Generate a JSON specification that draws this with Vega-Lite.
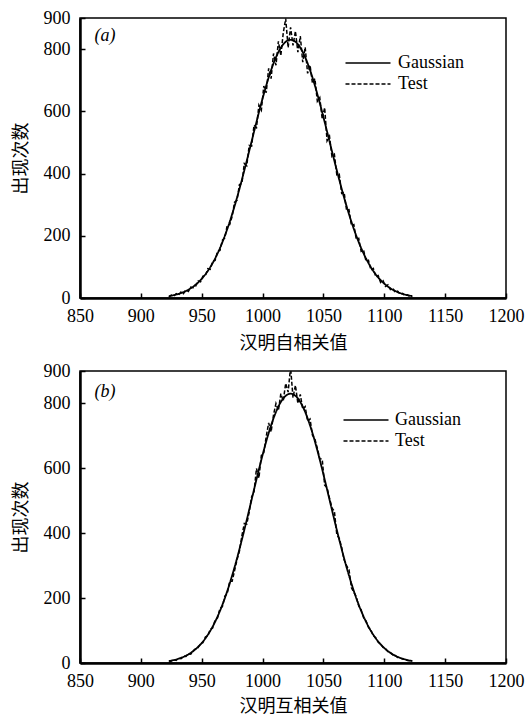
{
  "$schema": "https://vega.github.io/schema/vega-lite/v6.json",
  "padding": {"left": 11, "top": 8, "right": 5, "bottom": 3},
  "background": "white",
  "config": {
    "view": {"stroke": "black", "strokeWidth": 1.5},
    "axis": {
      "grid": false,
      "domainColor": "black",
      "domainWidth": 2.5,
      "tickColor": "black",
      "tickWidth": 1.5,
      "tickSize": -5,
      "labelFont": "Liberation Serif",
      "labelFontSize": 18,
      "labelColor": "black",
      "labelFlush": false,
      "labelOverlap": false,
      "format": "d",
      "titleFont": "Noto Sans CJK SC",
      "titleFontSize": 18,
      "titleFontWeight": "normal",
      "titleColor": "black"
    }
  },
  "datasets": {
    "gauss": [
      {"series": "Gaussian", "x": 923, "y": 6.3},
      {"series": "Gaussian", "x": 927, "y": 9.2},
      {"series": "Gaussian", "x": 931, "y": 13.3},
      {"series": "Gaussian", "x": 935, "y": 18.9},
      {"series": "Gaussian", "x": 939, "y": 26.5},
      {"series": "Gaussian", "x": 943, "y": 36.5},
      {"series": "Gaussian", "x": 947, "y": 49.5},
      {"series": "Gaussian", "x": 951, "y": 66.1},
      {"series": "Gaussian", "x": 955, "y": 86.8},
      {"series": "Gaussian", "x": 959, "y": 112.3},
      {"series": "Gaussian", "x": 963, "y": 143.1},
      {"series": "Gaussian", "x": 967, "y": 179.5},
      {"series": "Gaussian", "x": 971, "y": 221.7},
      {"series": "Gaussian", "x": 975, "y": 269.5},
      {"series": "Gaussian", "x": 979, "y": 322.5},
      {"series": "Gaussian", "x": 983, "y": 380.0},
      {"series": "Gaussian", "x": 987, "y": 440.8},
      {"series": "Gaussian", "x": 991, "y": 503.4},
      {"series": "Gaussian", "x": 995, "y": 566.0},
      {"series": "Gaussian", "x": 999, "y": 626.5},
      {"series": "Gaussian", "x": 1003, "y": 682.8},
      {"series": "Gaussian", "x": 1007, "y": 732.5},
      {"series": "Gaussian", "x": 1011, "y": 773.6},
      {"series": "Gaussian", "x": 1015, "y": 804.5},
      {"series": "Gaussian", "x": 1019, "y": 823.5},
      {"series": "Gaussian", "x": 1023, "y": 830.0},
      {"series": "Gaussian", "x": 1027, "y": 823.5},
      {"series": "Gaussian", "x": 1031, "y": 804.5},
      {"series": "Gaussian", "x": 1035, "y": 773.6},
      {"series": "Gaussian", "x": 1039, "y": 732.5},
      {"series": "Gaussian", "x": 1043, "y": 682.8},
      {"series": "Gaussian", "x": 1047, "y": 626.5},
      {"series": "Gaussian", "x": 1051, "y": 566.0},
      {"series": "Gaussian", "x": 1055, "y": 503.4},
      {"series": "Gaussian", "x": 1059, "y": 440.8},
      {"series": "Gaussian", "x": 1063, "y": 380.0},
      {"series": "Gaussian", "x": 1067, "y": 322.5},
      {"series": "Gaussian", "x": 1071, "y": 269.5},
      {"series": "Gaussian", "x": 1075, "y": 221.7},
      {"series": "Gaussian", "x": 1079, "y": 179.5},
      {"series": "Gaussian", "x": 1083, "y": 143.1},
      {"series": "Gaussian", "x": 1087, "y": 112.3},
      {"series": "Gaussian", "x": 1091, "y": 86.8},
      {"series": "Gaussian", "x": 1095, "y": 66.1},
      {"series": "Gaussian", "x": 1099, "y": 49.5},
      {"series": "Gaussian", "x": 1103, "y": 36.5},
      {"series": "Gaussian", "x": 1107, "y": 26.5},
      {"series": "Gaussian", "x": 1111, "y": 18.9},
      {"series": "Gaussian", "x": 1115, "y": 13.3},
      {"series": "Gaussian", "x": 1119, "y": 9.2},
      {"series": "Gaussian", "x": 1123, "y": 6.3}
    ],
    "test": [
      {"panel": "a", "series": "Test", "x": 923, "y": 3},
      {"panel": "a", "series": "Test", "x": 925, "y": 9},
      {"panel": "a", "series": "Test", "x": 927, "y": 6},
      {"panel": "a", "series": "Test", "x": 929, "y": 14},
      {"panel": "a", "series": "Test", "x": 931, "y": 10},
      {"panel": "a", "series": "Test", "x": 933, "y": 19},
      {"panel": "a", "series": "Test", "x": 935, "y": 14},
      {"panel": "a", "series": "Test", "x": 937, "y": 26},
      {"panel": "a", "series": "Test", "x": 939, "y": 21},
      {"panel": "a", "series": "Test", "x": 941, "y": 35},
      {"panel": "a", "series": "Test", "x": 943, "y": 33},
      {"panel": "a", "series": "Test", "x": 945, "y": 38},
      {"panel": "a", "series": "Test", "x": 947, "y": 55},
      {"panel": "a", "series": "Test", "x": 949, "y": 52},
      {"panel": "a", "series": "Test", "x": 951, "y": 70},
      {"panel": "a", "series": "Test", "x": 953, "y": 72},
      {"panel": "a", "series": "Test", "x": 955, "y": 94},
      {"panel": "a", "series": "Test", "x": 957, "y": 92},
      {"panel": "a", "series": "Test", "x": 959, "y": 118},
      {"panel": "a", "series": "Test", "x": 961, "y": 121},
      {"panel": "a", "series": "Test", "x": 963, "y": 150},
      {"panel": "a", "series": "Test", "x": 965, "y": 153},
      {"panel": "a", "series": "Test", "x": 967, "y": 186},
      {"panel": "a", "series": "Test", "x": 969, "y": 193},
      {"panel": "a", "series": "Test", "x": 971, "y": 235},
      {"panel": "a", "series": "Test", "x": 973, "y": 236},
      {"panel": "a", "series": "Test", "x": 975, "y": 262},
      {"panel": "a", "series": "Test", "x": 977, "y": 308},
      {"panel": "a", "series": "Test", "x": 979, "y": 314},
      {"panel": "a", "series": "Test", "x": 981, "y": 365},
      {"panel": "a", "series": "Test", "x": 983, "y": 368},
      {"panel": "a", "series": "Test", "x": 985, "y": 432},
      {"panel": "a", "series": "Test", "x": 987, "y": 425},
      {"panel": "a", "series": "Test", "x": 989, "y": 490},
      {"panel": "a", "series": "Test", "x": 991, "y": 488},
      {"panel": "a", "series": "Test", "x": 993, "y": 556},
      {"panel": "a", "series": "Test", "x": 995, "y": 548},
      {"panel": "a", "series": "Test", "x": 997, "y": 620},
      {"panel": "a", "series": "Test", "x": 999, "y": 604},
      {"panel": "a", "series": "Test", "x": 1001, "y": 681},
      {"panel": "a", "series": "Test", "x": 1003, "y": 660},
      {"panel": "a", "series": "Test", "x": 1005, "y": 738},
      {"panel": "a", "series": "Test", "x": 1007, "y": 705},
      {"panel": "a", "series": "Test", "x": 1009, "y": 786},
      {"panel": "a", "series": "Test", "x": 1011, "y": 748},
      {"panel": "a", "series": "Test", "x": 1013, "y": 825},
      {"panel": "a", "series": "Test", "x": 1015, "y": 779},
      {"panel": "a", "series": "Test", "x": 1017, "y": 852},
      {"panel": "a", "series": "Test", "x": 1019, "y": 898},
      {"panel": "a", "series": "Test", "x": 1021, "y": 805},
      {"panel": "a", "series": "Test", "x": 1023, "y": 870},
      {"panel": "a", "series": "Test", "x": 1025, "y": 812},
      {"panel": "a", "series": "Test", "x": 1027, "y": 858},
      {"panel": "a", "series": "Test", "x": 1029, "y": 790},
      {"panel": "a", "series": "Test", "x": 1031, "y": 842},
      {"panel": "a", "series": "Test", "x": 1033, "y": 758},
      {"panel": "a", "series": "Test", "x": 1035, "y": 806},
      {"panel": "a", "series": "Test", "x": 1037, "y": 722},
      {"panel": "a", "series": "Test", "x": 1039, "y": 748},
      {"panel": "a", "series": "Test", "x": 1041, "y": 690},
      {"panel": "a", "series": "Test", "x": 1043, "y": 705},
      {"panel": "a", "series": "Test", "x": 1045, "y": 632},
      {"panel": "a", "series": "Test", "x": 1047, "y": 644},
      {"panel": "a", "series": "Test", "x": 1049, "y": 575},
      {"panel": "a", "series": "Test", "x": 1051, "y": 612},
      {"panel": "a", "series": "Test", "x": 1053, "y": 505},
      {"panel": "a", "series": "Test", "x": 1055, "y": 520},
      {"panel": "a", "series": "Test", "x": 1057, "y": 455},
      {"panel": "a", "series": "Test", "x": 1059, "y": 462},
      {"panel": "a", "series": "Test", "x": 1061, "y": 396},
      {"panel": "a", "series": "Test", "x": 1063, "y": 398},
      {"panel": "a", "series": "Test", "x": 1065, "y": 336},
      {"panel": "a", "series": "Test", "x": 1067, "y": 340},
      {"panel": "a", "series": "Test", "x": 1069, "y": 282},
      {"panel": "a", "series": "Test", "x": 1071, "y": 284},
      {"panel": "a", "series": "Test", "x": 1073, "y": 233},
      {"panel": "a", "series": "Test", "x": 1075, "y": 236},
      {"panel": "a", "series": "Test", "x": 1077, "y": 188},
      {"panel": "a", "series": "Test", "x": 1079, "y": 192},
      {"panel": "a", "series": "Test", "x": 1081, "y": 150},
      {"panel": "a", "series": "Test", "x": 1083, "y": 154},
      {"panel": "a", "series": "Test", "x": 1085, "y": 118},
      {"panel": "a", "series": "Test", "x": 1087, "y": 121},
      {"panel": "a", "series": "Test", "x": 1089, "y": 90},
      {"panel": "a", "series": "Test", "x": 1091, "y": 95},
      {"panel": "a", "series": "Test", "x": 1093, "y": 68},
      {"panel": "a", "series": "Test", "x": 1095, "y": 72},
      {"panel": "a", "series": "Test", "x": 1097, "y": 50},
      {"panel": "a", "series": "Test", "x": 1099, "y": 56},
      {"panel": "a", "series": "Test", "x": 1101, "y": 37},
      {"panel": "a", "series": "Test", "x": 1103, "y": 42},
      {"panel": "a", "series": "Test", "x": 1105, "y": 27},
      {"panel": "a", "series": "Test", "x": 1107, "y": 31},
      {"panel": "a", "series": "Test", "x": 1109, "y": 18},
      {"panel": "a", "series": "Test", "x": 1111, "y": 22},
      {"panel": "a", "series": "Test", "x": 1113, "y": 12},
      {"panel": "a", "series": "Test", "x": 1115, "y": 15},
      {"panel": "a", "series": "Test", "x": 1117, "y": 8},
      {"panel": "a", "series": "Test", "x": 1119, "y": 10},
      {"panel": "a", "series": "Test", "x": 1121, "y": 5},
      {"panel": "a", "series": "Test", "x": 1123, "y": 4},
      {"panel": "b", "series": "Test", "x": 923, "y": 2},
      {"panel": "b", "series": "Test", "x": 925, "y": 6},
      {"panel": "b", "series": "Test", "x": 927, "y": 10},
      {"panel": "b", "series": "Test", "x": 929, "y": 8},
      {"panel": "b", "series": "Test", "x": 931, "y": 15},
      {"panel": "b", "series": "Test", "x": 933, "y": 13},
      {"panel": "b", "series": "Test", "x": 935, "y": 21},
      {"panel": "b", "series": "Test", "x": 937, "y": 20},
      {"panel": "b", "series": "Test", "x": 939, "y": 29},
      {"panel": "b", "series": "Test", "x": 941, "y": 27},
      {"panel": "b", "series": "Test", "x": 943, "y": 38},
      {"panel": "b", "series": "Test", "x": 945, "y": 44},
      {"panel": "b", "series": "Test", "x": 947, "y": 47},
      {"panel": "b", "series": "Test", "x": 949, "y": 60},
      {"panel": "b", "series": "Test", "x": 951, "y": 63},
      {"panel": "b", "series": "Test", "x": 953, "y": 80},
      {"panel": "b", "series": "Test", "x": 955, "y": 84},
      {"panel": "b", "series": "Test", "x": 957, "y": 104},
      {"panel": "b", "series": "Test", "x": 959, "y": 108},
      {"panel": "b", "series": "Test", "x": 961, "y": 132},
      {"panel": "b", "series": "Test", "x": 963, "y": 139},
      {"panel": "b", "series": "Test", "x": 965, "y": 168},
      {"panel": "b", "series": "Test", "x": 967, "y": 174},
      {"panel": "b", "series": "Test", "x": 969, "y": 206},
      {"panel": "b", "series": "Test", "x": 971, "y": 214},
      {"panel": "b", "series": "Test", "x": 973, "y": 252},
      {"panel": "b", "series": "Test", "x": 975, "y": 252},
      {"panel": "b", "series": "Test", "x": 977, "y": 285},
      {"panel": "b", "series": "Test", "x": 979, "y": 318},
      {"panel": "b", "series": "Test", "x": 981, "y": 345},
      {"panel": "b", "series": "Test", "x": 983, "y": 392},
      {"panel": "b", "series": "Test", "x": 985, "y": 430},
      {"panel": "b", "series": "Test", "x": 987, "y": 428},
      {"panel": "b", "series": "Test", "x": 989, "y": 465},
      {"panel": "b", "series": "Test", "x": 991, "y": 512},
      {"panel": "b", "series": "Test", "x": 993, "y": 528},
      {"panel": "b", "series": "Test", "x": 995, "y": 600},
      {"panel": "b", "series": "Test", "x": 997, "y": 570},
      {"panel": "b", "series": "Test", "x": 999, "y": 640},
      {"panel": "b", "series": "Test", "x": 1001, "y": 648},
      {"panel": "b", "series": "Test", "x": 1003, "y": 698},
      {"panel": "b", "series": "Test", "x": 1005, "y": 740},
      {"panel": "b", "series": "Test", "x": 1007, "y": 712},
      {"panel": "b", "series": "Test", "x": 1009, "y": 765},
      {"panel": "b", "series": "Test", "x": 1011, "y": 800},
      {"panel": "b", "series": "Test", "x": 1013, "y": 778},
      {"panel": "b", "series": "Test", "x": 1015, "y": 830},
      {"panel": "b", "series": "Test", "x": 1017, "y": 808},
      {"panel": "b", "series": "Test", "x": 1019, "y": 862},
      {"panel": "b", "series": "Test", "x": 1021, "y": 835},
      {"panel": "b", "series": "Test", "x": 1023, "y": 912},
      {"panel": "b", "series": "Test", "x": 1025, "y": 818},
      {"panel": "b", "series": "Test", "x": 1027, "y": 856},
      {"panel": "b", "series": "Test", "x": 1029, "y": 800},
      {"panel": "b", "series": "Test", "x": 1031, "y": 828},
      {"panel": "b", "series": "Test", "x": 1033, "y": 782},
      {"panel": "b", "series": "Test", "x": 1035, "y": 790},
      {"panel": "b", "series": "Test", "x": 1037, "y": 745},
      {"panel": "b", "series": "Test", "x": 1039, "y": 752},
      {"panel": "b", "series": "Test", "x": 1041, "y": 702},
      {"panel": "b", "series": "Test", "x": 1043, "y": 690},
      {"panel": "b", "series": "Test", "x": 1045, "y": 662},
      {"panel": "b", "series": "Test", "x": 1047, "y": 630},
      {"panel": "b", "series": "Test", "x": 1049, "y": 628},
      {"panel": "b", "series": "Test", "x": 1051, "y": 548},
      {"panel": "b", "series": "Test", "x": 1053, "y": 540},
      {"panel": "b", "series": "Test", "x": 1055, "y": 508},
      {"panel": "b", "series": "Test", "x": 1057, "y": 478},
      {"panel": "b", "series": "Test", "x": 1059, "y": 468},
      {"panel": "b", "series": "Test", "x": 1061, "y": 395},
      {"panel": "b", "series": "Test", "x": 1063, "y": 384},
      {"panel": "b", "series": "Test", "x": 1065, "y": 356},
      {"panel": "b", "series": "Test", "x": 1067, "y": 318},
      {"panel": "b", "series": "Test", "x": 1069, "y": 300},
      {"panel": "b", "series": "Test", "x": 1071, "y": 288},
      {"panel": "b", "series": "Test", "x": 1073, "y": 232},
      {"panel": "b", "series": "Test", "x": 1075, "y": 218},
      {"panel": "b", "series": "Test", "x": 1077, "y": 204},
      {"panel": "b", "series": "Test", "x": 1079, "y": 176},
      {"panel": "b", "series": "Test", "x": 1081, "y": 164},
      {"panel": "b", "series": "Test", "x": 1083, "y": 140},
      {"panel": "b", "series": "Test", "x": 1085, "y": 130},
      {"panel": "b", "series": "Test", "x": 1087, "y": 110},
      {"panel": "b", "series": "Test", "x": 1089, "y": 101},
      {"panel": "b", "series": "Test", "x": 1091, "y": 84},
      {"panel": "b", "series": "Test", "x": 1093, "y": 78},
      {"panel": "b", "series": "Test", "x": 1095, "y": 64},
      {"panel": "b", "series": "Test", "x": 1097, "y": 59},
      {"panel": "b", "series": "Test", "x": 1099, "y": 48},
      {"panel": "b", "series": "Test", "x": 1101, "y": 44},
      {"panel": "b", "series": "Test", "x": 1103, "y": 35},
      {"panel": "b", "series": "Test", "x": 1105, "y": 32},
      {"panel": "b", "series": "Test", "x": 1107, "y": 25},
      {"panel": "b", "series": "Test", "x": 1109, "y": 23},
      {"panel": "b", "series": "Test", "x": 1111, "y": 17},
      {"panel": "b", "series": "Test", "x": 1113, "y": 16},
      {"panel": "b", "series": "Test", "x": 1115, "y": 12},
      {"panel": "b", "series": "Test", "x": 1117, "y": 11},
      {"panel": "b", "series": "Test", "x": 1119, "y": 8},
      {"panel": "b", "series": "Test", "x": 1121, "y": 7},
      {"panel": "b", "series": "Test", "x": 1123, "y": 5}
    ],
    "labels": [
      {"panel": "a", "x": 862, "y": 842, "label": "(a)"},
      {"panel": "b", "x": 862, "y": 835, "label": "(b)"}
    ]
  },
  "spacing": 73,
  "bounds": "flush",
  "resolve": {"scale": {"strokeDash": "independent"}, "legend": {"strokeDash": "independent"}},
  "vconcat": [
    {
      "width": 426,
      "height": 280,
      "layer": [
        {
          "data": {"name": "gauss"},
          "mark": {"type": "line", "color": "black", "strokeWidth": 1.8, "interpolate": "monotone", "clip": true},
          "encoding": {
            "x": {"field": "x", "type": "quantitative", "scale": {"domain": [850, 1200], "nice": false, "zero": false}, "axis": {"values": [850, 900, 950, 1000, 1050, 1100, 1150, 1200], "title": "汉明自相关值", "labelPadding": 14, "titlePadding": 9}},
            "y": {"field": "y", "type": "quantitative", "scale": {"domain": [0, 900], "nice": false}, "axis": {"values": [0, 200, 400, 600, 800, 900], "title": "出现次数", "labelPadding": 15, "titlePadding": 13}},
            "strokeDash": {"field": "series", "type": "nominal", "scale": {"domain": ["Gaussian", "Test"], "range": [[1, 0], [4, 2]]}, "legend": {"title": null, "orient": "none", "legendX": 279, "legendY": 36, "symbolType": "M-5,0H5", "symbolSize": 81, "symbolStrokeWidth": 1.5, "symbolStrokeColor": "black", "symbolFillColor": "transparent", "labelFont": "Liberation Serif", "labelFontSize": 18, "labelColor": "black", "labelOffset": 21, "rowPadding": 3, "padding": 0}}
          }
        },
        {
          "data": {"name": "test"},
          "transform": [{"filter": "datum.panel === 'a'"}],
          "mark": {"type": "line", "color": "black", "strokeWidth": 1.5, "clip": true},
          "encoding": {
            "x": {"field": "x", "type": "quantitative"},
            "y": {"field": "y", "type": "quantitative"},
            "strokeDash": {"field": "series", "type": "nominal"}
          }
        },
        {
          "data": {"name": "labels"},
          "transform": [{"filter": "datum.panel === 'a'"}],
          "mark": {"type": "text", "font": "Liberation Serif", "fontSize": 18, "fontStyle": "italic", "align": "left", "baseline": "middle", "color": "black"},
          "encoding": {
            "x": {"field": "x", "type": "quantitative"},
            "y": {"field": "y", "type": "quantitative"},
            "text": {"field": "label"}
          }
        }
      ]
    },
    {
      "width": 426,
      "height": 292,
      "layer": [
        {
          "data": {"name": "gauss"},
          "mark": {"type": "line", "color": "black", "strokeWidth": 1.8, "interpolate": "monotone", "clip": true},
          "encoding": {
            "x": {"field": "x", "type": "quantitative", "scale": {"domain": [850, 1200], "nice": false, "zero": false}, "axis": {"values": [850, 900, 950, 1000, 1050, 1100, 1150, 1200], "title": "汉明互相关值", "labelPadding": 14, "titlePadding": 7}},
            "y": {"field": "y", "type": "quantitative", "scale": {"domain": [0, 900], "nice": false}, "axis": {"values": [0, 200, 400, 600, 800, 900], "title": "出现次数", "labelPadding": 15, "titlePadding": 13}},
            "strokeDash": {"field": "series", "type": "nominal", "scale": {"domain": ["Gaussian", "Test"], "range": [[1, 0], [4, 2]]}, "legend": {"title": null, "orient": "none", "legendX": 277, "legendY": 40, "symbolType": "M-5,0H5", "symbolSize": 81, "symbolStrokeWidth": 1.5, "symbolStrokeColor": "black", "symbolFillColor": "transparent", "labelFont": "Liberation Serif", "labelFontSize": 18, "labelColor": "black", "labelOffset": 20, "rowPadding": 3, "padding": 0}}
          }
        },
        {
          "data": {"name": "test"},
          "transform": [{"filter": "datum.panel === 'b'"}],
          "mark": {"type": "line", "color": "black", "strokeWidth": 1.5, "clip": true},
          "encoding": {
            "x": {"field": "x", "type": "quantitative"},
            "y": {"field": "y", "type": "quantitative"},
            "strokeDash": {"field": "series", "type": "nominal"}
          }
        },
        {
          "data": {"name": "labels"},
          "transform": [{"filter": "datum.panel === 'b'"}],
          "mark": {"type": "text", "font": "Liberation Serif", "fontSize": 18, "fontStyle": "italic", "align": "left", "baseline": "middle", "color": "black"},
          "encoding": {
            "x": {"field": "x", "type": "quantitative"},
            "y": {"field": "y", "type": "quantitative"},
            "text": {"field": "label"}
          }
        }
      ]
    }
  ]
}
